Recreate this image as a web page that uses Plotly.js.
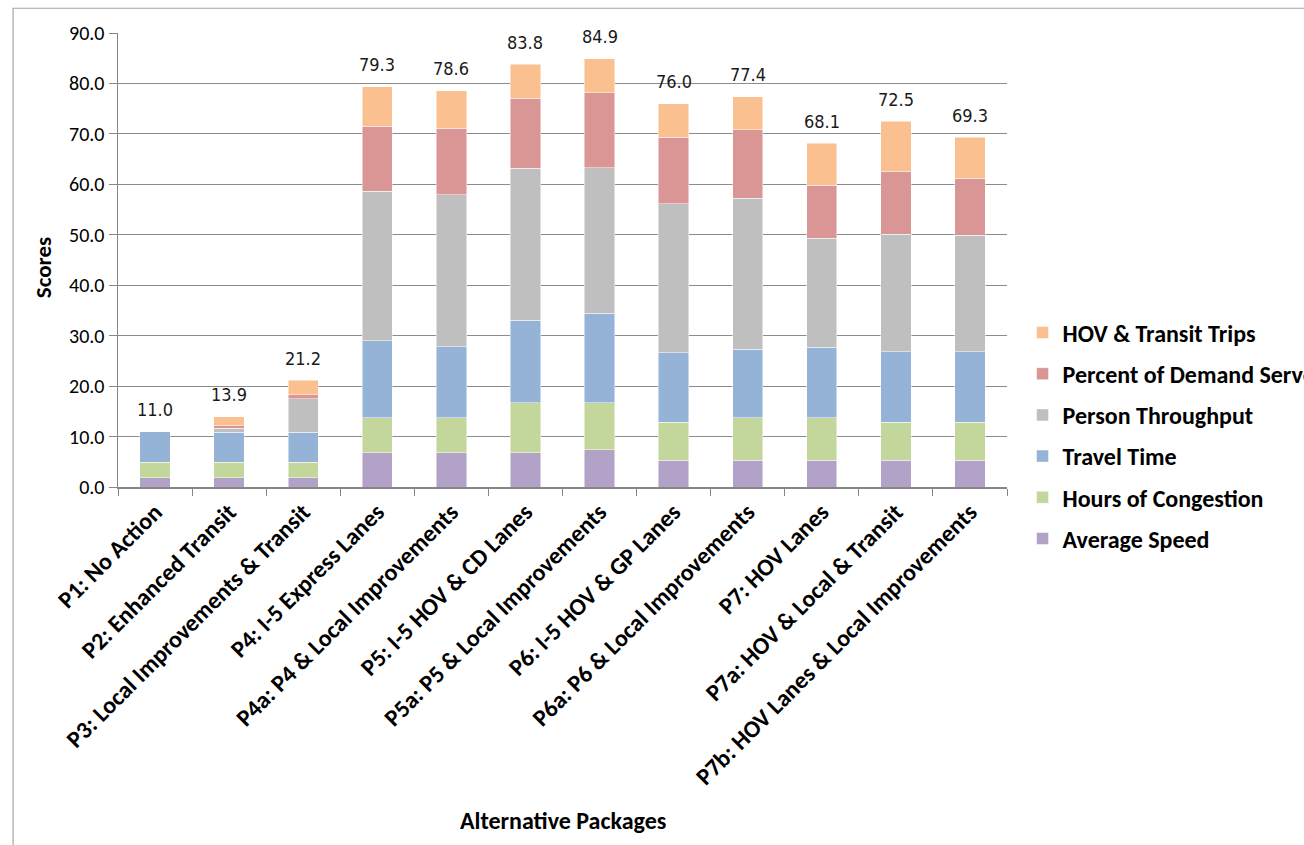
<!DOCTYPE html>
<html>
<head>
<meta charset="utf-8">
<script src="https://cdn.plot.ly/plotly-3.0.1.min.js"></script>
<style>html,body{margin:0;padding:0;background:#fff;}#chart{width:1304px;height:845px;}</style>
</head>
<body>
<div id="chart"></div>
<script>
const categories = [
  "P1: No Action",
  "P2: Enhanced Transit",
  "P3: Local Improvements & Transit",
  "P4: I-5 Express Lanes",
  "P4a: P4 & Local Improvements",
  "P5: I-5 HOV & CD Lanes",
  "P5a: P5 & Local Improvements",
  "P6: I-5 HOV & GP Lanes",
  "P6a: P6 & Local Improvements",
  "P7: HOV Lanes",
  "P7a: HOV & Local & Transit",
  "P7b: HOV Lanes & Local Improvements"
];
const averageSpeed      = [1.8, 1.8, 1.8, 6.8, 6.8, 6.8, 7.4, 5.3, 5.3, 5.3, 5.3, 5.3];
const hoursOfCongestion = [3.1, 3.1, 3.1, 6.9, 6.9, 9.9, 9.3, 7.5, 8.4, 8.4, 7.5, 7.5];
const travelTime        = [6.1, 6.0, 6.0, 15.3, 14.1, 16.4, 17.7, 13.8, 13.6, 14.0, 14.0, 14.0];
const personThroughput  = [0.0, 0.7, 6.6, 29.6, 30.1, 30.1, 28.9, 29.6, 29.9, 21.6, 23.3, 23.1];
const percentDemand     = [0.0, 0.5, 0.8, 12.9, 13.2, 13.9, 14.9, 13.1, 13.6, 10.5, 12.5, 11.3];
const hovTransitTrips   = [0.0, 1.8, 2.9, 7.8, 7.5, 6.7, 6.7, 6.7, 6.6, 8.3, 9.9, 8.1];

const seriesNames = ["Average Speed", "Hours of Congestion", "Travel Time", "Person Throughput", "Percent of Demand Served", "HOV & Transit Trips"];
const seriesValues = [averageSpeed, hoursOfCongestion, travelTime, personThroughput, percentDemand, hovTransitTrips];
const seriesColors = ["#B3A2C7", "#C3D69B", "#95B3D7", "#BFBFBF", "#D99694", "#FAC090"];

const totals = categories.map((c, i) => seriesValues.reduce((s, arr) => s + arr[i], 0));

const traces = seriesNames.map((name, k) => ({
  type: "bar",
  name: name,
  x: categories,
  y: seriesValues[k],
  legendgroup: "g" + k,
  legendrank: seriesNames.length - k,
  marker: {color: seriesColors[k], line: {color: "rgba(255,255,255,0.6)", width: 0.8}},
  hoverinfo: "x+y+name"
}));

const labelFont = {family: "Liberation Sans Narrow, Arial Narrow, DejaVu Sans Condensed, sans-serif", size: 18, color: "#1a1a1a"};
const baseFont = "Carlito, Calibri, Lato, sans-serif";

const annotations = categories.map((c, i) => ({
  x: c, y: totals[i], xref: "x", yref: "y",
  text: totals[i].toFixed(1), showarrow: false, yshift: 22,
  font: labelFont
}));
annotations.push({
  xref: "paper", yref: "paper", x: 0.5, y: -0.735, xanchor: "center", yanchor: "middle",
  text: "<b>Alternative Packages</b>", showarrow: false,
  font: {family: baseFont, size: 24, color: "#000"}
});
annotations.push({
  xref: "paper", yref: "paper", x: -0.085, y: 0.483, xanchor: "center", yanchor: "middle",
  text: "<b>Scores</b>", textangle: -90, showarrow: false,
  font: {family: baseFont, size: 23, color: "#000"}
});

const layout = {
  width: 1304, height: 845,
  margin: {l: 118, r: 297, t: 33, b: 358, autoexpand: false},
  paper_bgcolor: "#fff", plot_bgcolor: "#fff",
  barmode: "stack",
  bargap: 0.59,
  showlegend: true,
  legend: {
    x: 1.0175, y: 0.389, xanchor: "left", yanchor: "top",
    traceorder: "grouped", tracegroupgap: 7,
    font: {family: baseFont, size: 24, color: "#000", weight: "bold"},
    bgcolor: "rgba(0,0,0,0)"
  },
  xaxis: {
    type: "category",
    tickangle: -45,
    tickfont: {family: baseFont, size: 24, color: "#000", weight: "bold"},
    showline: true, linecolor: "#868686", linewidth: 1.5,
    ticks: "outside", ticklen: 7, tickcolor: "#868686", tickson: "boundaries",
    showgrid: false, automargin: false
  },
  yaxis: {
    range: [0, 90], dtick: 10, tickformat: ".1f",
    tickfont: {family: baseFont, size: 20, color: "#000"},
    showline: true, linecolor: "#868686", linewidth: 1.5,
    ticks: "outside", ticklen: 8, tickcolor: "#868686",
    showgrid: true, gridcolor: "#8C8C8C", gridwidth: 1.2,
    zeroline: false, automargin: false
  },
  annotations: annotations,
  shapes: [{
    type: "rect", xref: "paper", yref: "paper",
    x0: -0.118, x1: 1.5, y0: -0.9, y1: 1.0545,
    line: {color: "#A6A6A6", width: 1.2}, fillcolor: "rgba(0,0,0,0)", layer: "below"
  }]
};

Plotly.newPlot("chart", traces, layout, {displayModeBar: false, staticPlot: true});
</script>
</body>
</html>
